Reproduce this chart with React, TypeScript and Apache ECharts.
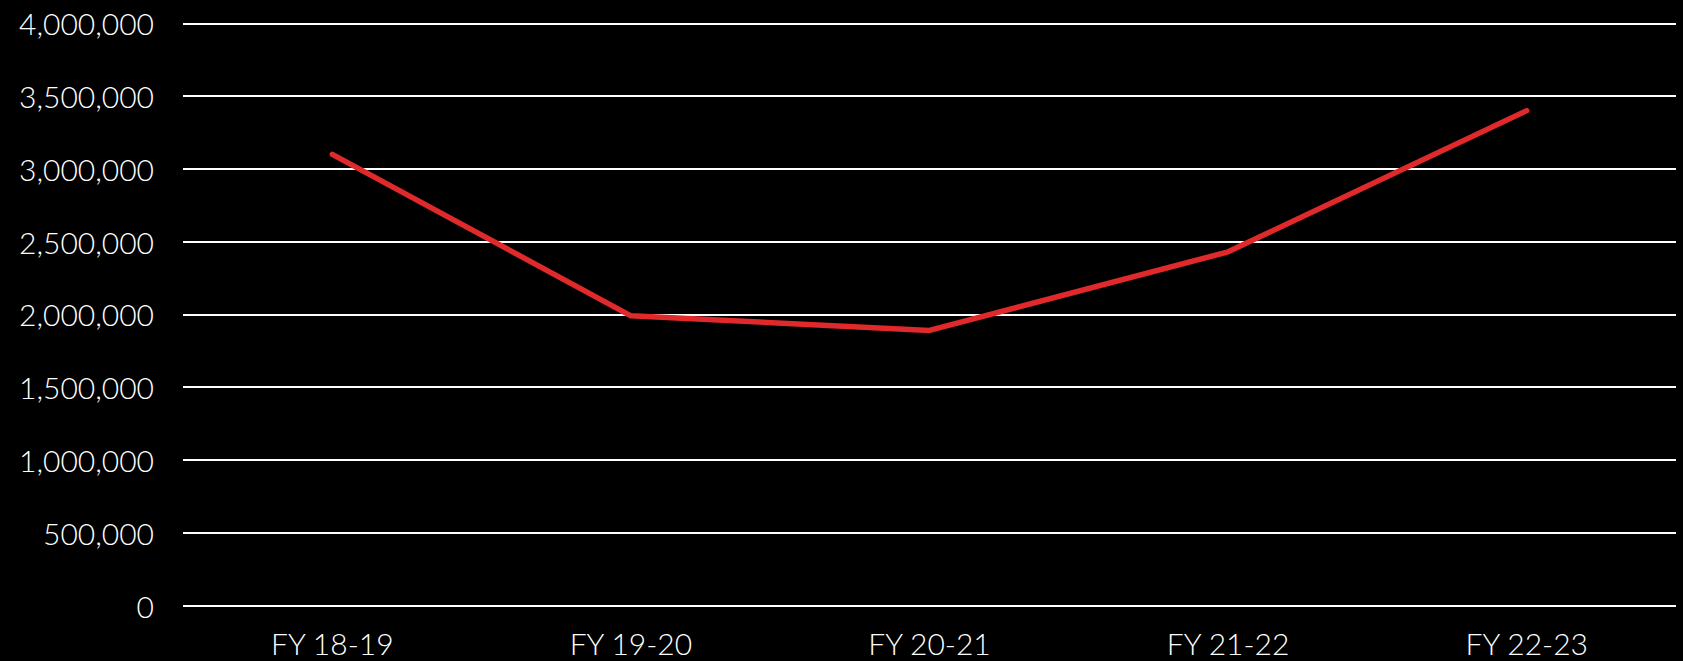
import React, { useEffect, useRef } from "react";
import * as echarts from "echarts";

const categories = ["FY 18-19", "FY 19-20", "FY 20-21", "FY 21-22", "FY 22-23"];
const values = [3100000, 1990000, 1890000, 2430000, 3400000];
const yMin = 0;
const yMax = 4000000;
const yInterval = 500000;

const FONT = "'Century Gothic', 'URW Gothic', Lato, 'DejaVu Sans', sans-serif";

export default function App() {
  const ref = useRef<HTMLDivElement>(null);
  useEffect(() => {
    if (!ref.current) return;
    const chart = echarts.init(ref.current, null, { renderer: "svg" });
    chart.setOption({
      animation: false,
      backgroundColor: "#000000",
      grid: { left: 183, right: 7, top: 23.3, bottom: 55.5, containLabel: false },
      xAxis: {
        type: "category",
        data: categories,
        boundaryGap: true,
        axisLine: { show: false },
        axisTick: { show: false },
        axisLabel: { color: "#ffffff", fontSize: 30, fontWeight: 300, fontFamily: FONT, margin: 22 },
      },
      yAxis: {
        type: "value",
        min: yMin,
        max: yMax,
        interval: yInterval,
        axisLine: { show: false },
        axisTick: { show: false },
        axisLabel: {
          color: "#ffffff",
          fontSize: 30,
          fontWeight: 300,
          fontFamily: FONT,
          margin: 29,
          formatter: (v: number) => v.toLocaleString("en-US"),
        },
        splitLine: { show: true, lineStyle: { color: "#ffffff", width: 2 } },
      },
      series: [
        {
          type: "line",
          data: values,
          symbol: "none",
          lineStyle: { color: "#E0292B", width: 5.5, cap: "round", join: "round" },
        },
      ],
    });
    return () => chart.dispose();
  }, []);
  return (
    <div
      ref={ref}
      style={{ position: "fixed", left: 0, top: 0, width: 1683, height: 661, background: "#000" }}
    />
  );
}
